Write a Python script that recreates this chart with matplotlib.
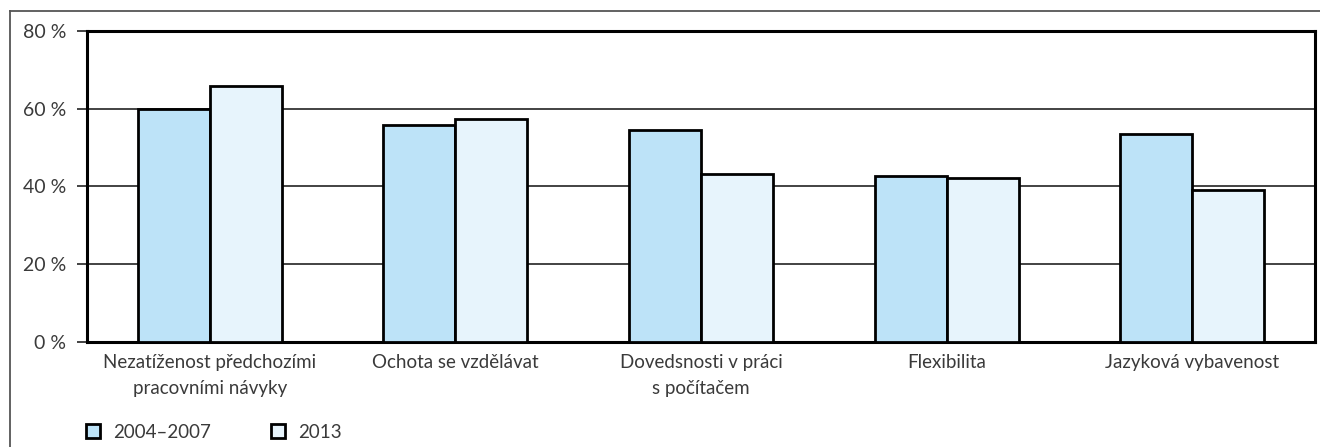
import matplotlib
matplotlib.use("Agg")
import matplotlib.pyplot as plt
from matplotlib.lines import Line2D
from matplotlib.patches import Patch

plt.rcParams['font.family'] = ['Lato', 'DejaVu Sans']

categories = ['Nezatíženost předchozími\npracovními návyky',
              'Ochota se vzdělávat',
              'Dovedsnosti v práci\ns počítačem',
              'Flexibilita',
              'Jazyková vybavenost']
v_2004_2007 = [59.8, 55.7, 54.6, 42.6, 53.4]
v_2013 = [65.8, 57.4, 43.2, 42.2, 39.1]
series_labels = ['2004–2007', '2013']
yticks = [0, 20, 40, 60, 80]
ytick_labels = ['0 %', '20 %', '40 %', '60 %', '80 %']

C1 = '#BDE3F8'
C2 = '#E7F4FC'
TXT = '#3a3a3a'

fig = plt.figure(figsize=(13.2, 4.47), dpi=100)
ax = fig.add_axes([0.0659, 0.2356, 0.9303, 0.695])

x = list(range(len(categories)))
w = 0.293
ax.bar([i - w / 2 for i in x], v_2004_2007, w, color=C1, edgecolor='black', linewidth=2, zorder=3)
ax.bar([i + w / 2 for i in x], v_2013, w, color=C2, edgecolor='black', linewidth=2, zorder=3)

ax.set_xlim(-0.5, len(categories) - 0.5)
ax.set_ylim(0, 80)
ax.set_yticks(yticks)
ax.set_yticklabels(ytick_labels, fontsize=14, color=TXT)
ax.set_xticks(x)
ax.set_xticklabels(categories, fontsize=13.5, color=TXT, linespacing=1.6)
ax.tick_params(axis='x', length=0, pad=9)
ax.tick_params(axis='y', length=7, width=1.2, color='#222222', pad=8)

ax.yaxis.grid(True, color='#222222', linewidth=1.2, zorder=0)
ax.set_axisbelow(True)
for s in ax.spines.values():
    s.set_linewidth(2.2)
    s.set_color('black')

# outer frame (top and left only)
fig.add_artist(Line2D([10 / 1320, 1], [1 - 10.5 / 447] * 2, color='#555555', lw=1.3))
fig.add_artist(Line2D([10 / 1320] * 2, [0, 1 - 10.5 / 447], color='#555555', lw=1.3))

handles = [Patch(facecolor=C1, edgecolor='black', linewidth=2),
           Patch(facecolor=C2, edgecolor='black', linewidth=2)]
fig.legend(handles, series_labels, loc='center left', bbox_to_anchor=(0.058, 1 - 432 / 447),
           ncol=2, frameon=False, fontsize=13.5, handlelength=0.75, handleheight=0.75,
           handletextpad=0.7, columnspacing=3.2, labelcolor=TXT, borderpad=0)

fig.savefig('out.png', dpi=100, facecolor='white')
